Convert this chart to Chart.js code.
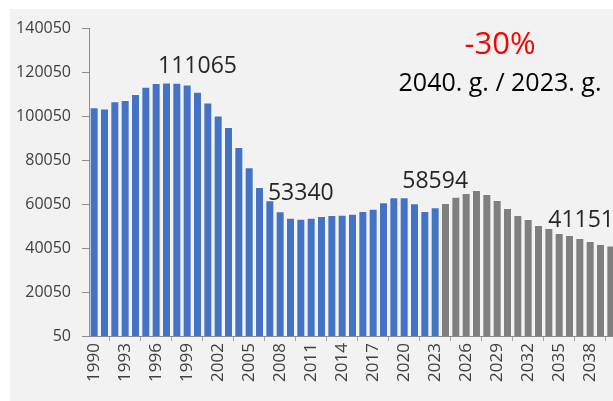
<!DOCTYPE html>
<html>
<head>
<meta charset="utf-8">
<script src="https://cdn.jsdelivr.net/npm/chart.js@4/dist/chart.umd.min.js"></script>
<style>
  html, body { margin: 0; padding: 0; background: #ffffff; overflow: hidden; }
  #panel { position: absolute; left: 10px; top: 9px; width: 603px; height: 392px; background: #f2f2f2; overflow: hidden; }
  #c { position: absolute; left: 0; top: 0; }
</style>
</head>
<body>
<div id="panel"><canvas id="c" width="606" height="392"></canvas></div>
<script>
const years = [];
for (let y = 1990; y <= 2040; y++) years.push(String(y));

const actualValues = [
  104000, 103500, 106700, 107300, 110100, 113300, 115100, 115300, 115200, 114400,
  111065, 106200, 100300, 95100, 86000, 76800, 67800, 61700, 56800, 53800,
  53340, 53800, 54600, 55050, 55200, 55650, 56850, 57900, 60800, 63100,
  63100, 60400, 56850, 58594
];
const forecastValues = [
  60500, 63300, 65050, 66400, 64600, 61850, 58250, 55050, 53200, 50500,
  49150, 46850, 45950, 44600, 43200, 41900, 41151
];
const yTickLabels = [50, 20050, 40050, 60050, 80050, 100050, 120050, 140050];
const labelledYears = ['2000', '2010', '2023', '2040'];
const compareYears = ['2040', '2023'];

const allValues = actualValues.concat(forecastValues);
const blueData = years.map((y, i) => i < actualValues.length ? actualValues[i] : null);
const greyData = years.map((y, i) => i >= actualValues.length ? allValues[i] : null);

const pct = Math.round((allValues[years.indexOf(compareYears[0])] / allValues[years.indexOf(compareYears[1])] - 1) * 100);
const pctText = (pct > 0 ? '+' : '') + pct + '%';
const compText = compareYears[0] + '. g. / ' + compareYears[1] + '. g.';

const FONT = "'Open Sans', 'Noto Sans', sans-serif";

const annotate = {
  id: 'annotate',
  afterDatasetsDraw(chart) {
    const ctx = chart.ctx;
    const xs = chart.scales.x, ys = chart.scales.y;
    ctx.save();
    ctx.font = '23px ' + FONT;
    ctx.fillStyle = '#262626';
    ctx.textAlign = 'center';
    ctx.textBaseline = 'alphabetic';
    labelledYears.forEach(yr => {
      const i = years.indexOf(yr);
      const v = allValues[i];
      let x = xs.getPixelForValue(i);
      const y = ys.getPixelForValue(v) - 19;
      const w = ctx.measureText(String(v)).width;
      const maxRight = 604;
      if (x + w / 2 > maxRight) x = maxRight - w / 2;
      ctx.fillText(String(v), x, y);
    });
    ctx.font = '31px ' + FONT;
    ctx.fillStyle = '#ff0000';
    ctx.fillText(pctText, 490, 45);
    ctx.font = '25px ' + FONT;
    ctx.fillStyle = '#000000';
    ctx.fillText(compText, 490, 82);
    ctx.restore();
  }
};

new Chart(document.getElementById('c'), {
  type: 'bar',
  data: {
    labels: years,
    datasets: [
      { data: blueData, backgroundColor: '#4472c4', borderColor: 'rgba(255,255,255,0.35)', borderWidth: 1, barPercentage: 0.87, categoryPercentage: 1, grouped: false },
      { data: greyData, backgroundColor: '#7f7f7f', borderColor: 'rgba(255,255,255,0.2)', borderWidth: 1, barPercentage: 0.87, categoryPercentage: 1, grouped: false }
    ]
  },
  options: {
    responsive: false,
    animation: false,
    devicePixelRatio: 1,
    layout: { padding: { top: 19, right: 0, left: 0, bottom: 0 } },
    plugins: { legend: { display: false }, tooltip: { enabled: false }, title: { display: false } },
    scales: {
      x: {
        offset: true,
        grid: { display: true, drawOnChartArea: false, drawTicks: true, tickLength: 5, color: '#a6a6a6', offset: true },
        border: { display: true, color: '#8c8c8c', width: 1 },
        ticks: {
          autoSkip: false, maxRotation: 90, minRotation: 90, padding: 2,
          color: '#404040', font: { family: FONT, size: 17 },
          callback: function(v, i) { return i % 3 === 0 ? years[i] : null; }
        },
        afterFit(scale) { scale.height = 65; scale.paddingLeft = 0; scale.paddingRight = 0; }
      },
      y: {
        min: yTickLabels[0],
        max: yTickLabels[yTickLabels.length - 1],
        grid: { display: true, drawOnChartArea: false, drawTicks: true, tickLength: 7, color: '#8c8c8c' },
        border: { display: true, color: '#8c8c8c', width: 1 },
        ticks: { color: '#404040', font: { family: FONT, size: 16 }, padding: 11, callback: v => String(v) },
        afterBuildTicks(scale) { scale.ticks = yTickLabels.map(v => ({ value: v })); },
        afterFit(scale) { scale.width = 79; scale.paddingTop = 0; scale.paddingBottom = 0; }
      }
    }
  },
  plugins: [annotate]
});
</script>
</body>
</html>
